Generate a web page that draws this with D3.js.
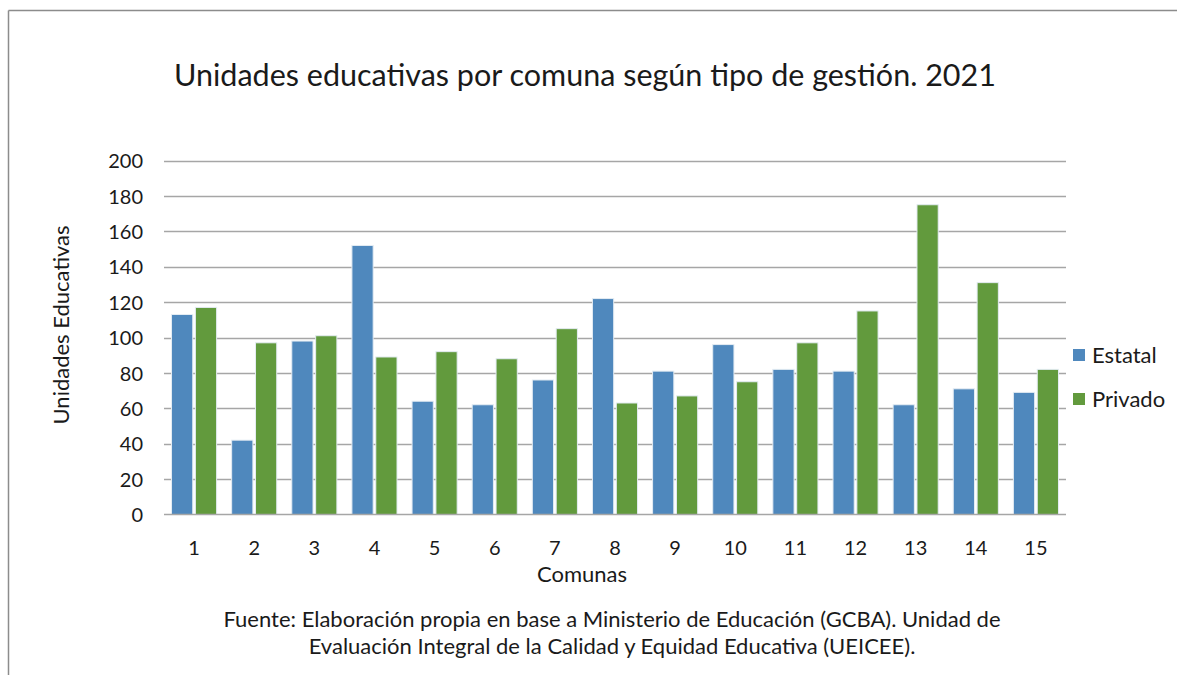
<!DOCTYPE html>
<html><head><meta charset="utf-8">
<script src="https://cdn.jsdelivr.net/npm/d3@7"></script>
<style>body{margin:0;background:#fff;} text{font-family:Lato,"Open Sans",sans-serif;fill:#1a1a1a;}</style>
</head><body><svg id="c" width="1177" height="675"></svg>
<script>
const categories = ["1","2","3","4","5","6","7","8","9","10","11","12","13","14","15"];
const estatal = [113,42,98,152,64,62,76,122,81,96,82,81,62,71,69];
const privado = [117,97,101,89,92,88,105,63,67,75,97,115,175,131,82];
const seriesNames = ["Estatal","Privado"];
const yTicks = [0,20,40,60,80,100,120,140,160,180,200];
const colors = ["#4F88BD","#629A3D"];

const svg = d3.select("#c");
const W=1177,H=675;
const m={l:164,r:1066,t:160.5,b:514.5};

// frame
svg.append("line").attr("x1",8.5).attr("x2",W).attr("y1",10.5).attr("y2",10.5).attr("stroke","#8c8c8c").attr("stroke-width",1.5);
svg.append("line").attr("x1",8.5).attr("x2",8.5).attr("y1",10.5).attr("y2",H).attr("stroke","#8c8c8c").attr("stroke-width",1.5);

const x = d3.scaleBand().domain(categories).range([m.l,m.r]).paddingInner(0.25).paddingOuter(0.125);
const xs = d3.scaleBand().domain(seriesNames).range([0,x.bandwidth()]).paddingInner(0.11);
const y = d3.scaleLinear().domain([0,200]).range([m.b,m.t]);

// gridlines
svg.append("g").selectAll("line").data(yTicks.filter(d=>d>0)).join("line")
 .attr("x1",m.l).attr("x2",m.r).attr("y1",d=>Math.round(y(d))+0.5).attr("y2",d=>Math.round(y(d))+0.5)
 .attr("stroke","#a6a6a6").attr("stroke-width",1.5);

// y labels
const yAxis = d3.axisLeft(y).tickValues(yTicks).tickSize(0).tickPadding(0);
const gy = svg.append("g").attr("transform",`translate(${m.l-21},0)`).call(yAxis);
gy.select(".domain").remove();
gy.selectAll("text").style("font-size","20px").attr("fill","#1a1a1a").attr("dy","0.36em");

// bars
const data = categories.map((c,i)=>({c, vals:[estatal[i],privado[i]]}));
const groups = svg.append("g").selectAll("g").data(data).join("g").attr("transform",d=>`translate(${x(d.c)},0)`);
groups.selectAll("rect").data(d=>d.vals.map((v,j)=>({v,s:seriesNames[j],j}))).join("rect")
 .attr("x",d=>xs(d.s)).attr("width",xs.bandwidth())
 .attr("y",d=>y(d.v)).attr("height",d=>y(0)-y(d.v))
 .attr("fill",d=>colors[d.j]).attr("stroke","#e4ecf3").attr("stroke-width",1);

// x axis line
svg.append("line").attr("x1",m.l).attr("x2",m.r).attr("y1",m.b).attr("y2",m.b).attr("stroke","#a6a6a6").attr("stroke-width",1.5);
const xAxis = d3.axisBottom(x).tickSize(0).tickPadding(0);
const gx = svg.append("g").attr("transform",`translate(0,${m.b+40})`).call(xAxis);
gx.select(".domain").remove();
gx.selectAll("text").style("font-size","20px").attr("fill","#1a1a1a").attr("dy","0");

// axis titles
svg.append("text").attr("x",582).attr("y",582).attr("text-anchor","middle").style("font-size","22px").text("Comunas");
svg.append("text").attr("transform","translate(69,325) rotate(-90)").attr("text-anchor","middle").style("font-size","22px").text("Unidades Educativas");

// title
svg.append("text").attr("x",585).attr("y",86).attr("text-anchor","middle").style("font-size","30.5px").text("Unidades educativas por comuna según tipo de gestión. 2021");

// legend
const lg = svg.append("g").selectAll("g").data(seriesNames).join("g").attr("transform",(d,i)=>`translate(1073,${355+i*44})`);
lg.append("rect").attr("x",0).attr("y",-6).attr("width",12).attr("height",12).attr("fill",(d,i)=>colors[i]);
lg.append("text").attr("x",19).attr("y",0).attr("dy","0.36em").style("font-size","22px").text(d=>d);

// footer
const foot = ["Fuente: Elaboración propia en base a Ministerio de Educación (GCBA). Unidad de","Evaluación Integral de la Calidad y Equidad Educativa (UEICEE)."];
svg.append("g").selectAll("text").data(foot).join("text").attr("x",612).attr("y",(d,i)=>627+i*27).attr("text-anchor","middle").style("font-size","22px").text(d=>d);
</script></body></html>
